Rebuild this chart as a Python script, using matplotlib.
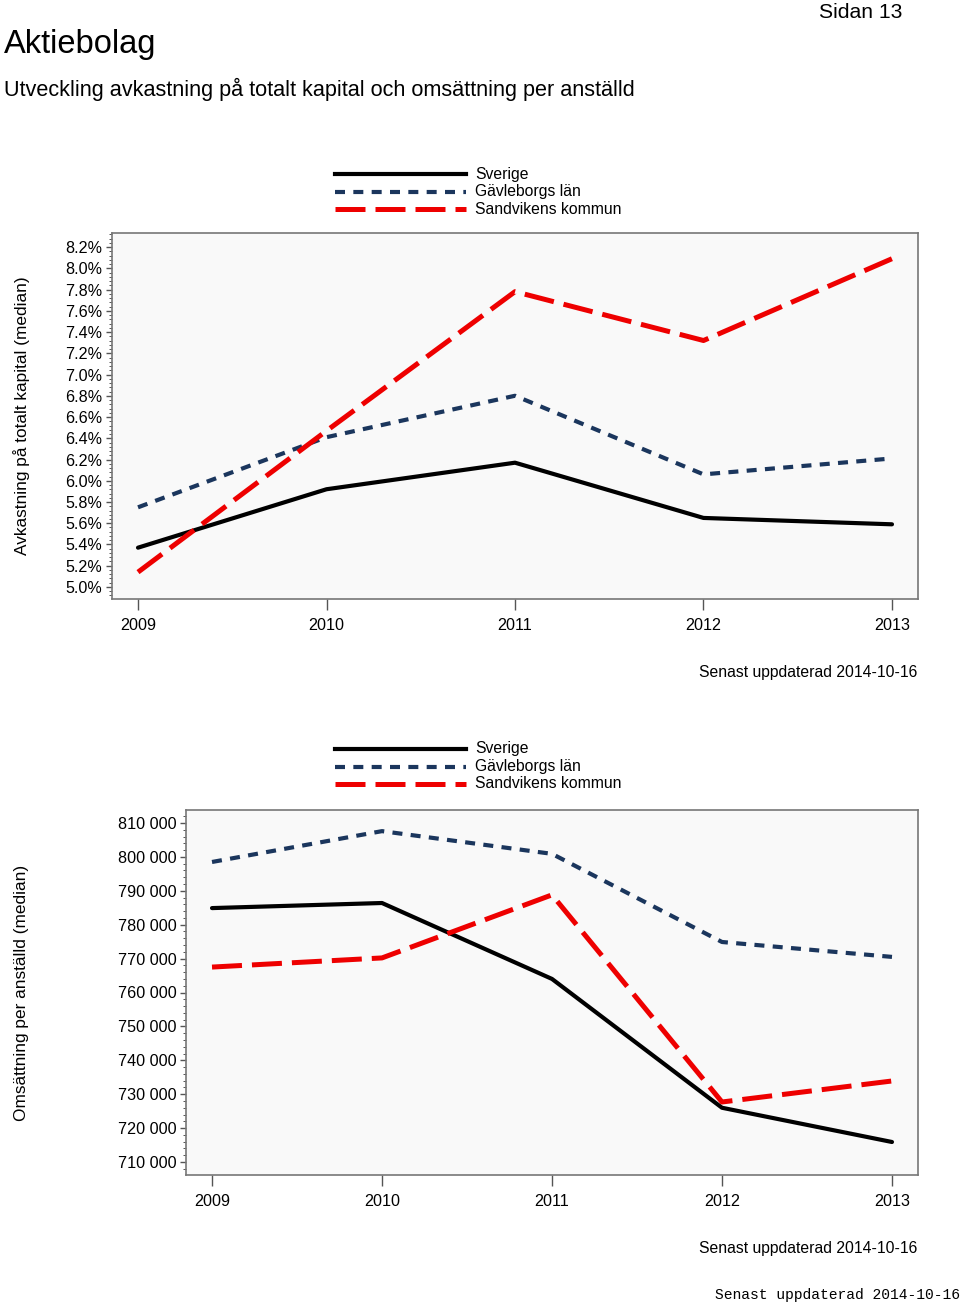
import matplotlib
matplotlib.use("Agg")
import matplotlib.pyplot as plt
from matplotlib.ticker import FixedLocator, AutoMinorLocator, FuncFormatter
from matplotlib.lines import Line2D

plt.rcParams['font.family'] = ['Liberation Sans', 'DejaVu Sans']

years = [2009, 2010, 2011, 2012, 2013]
series_names = ["Sverige", "Gävleborgs län", "Sandvikens kommun"]

# Avkastning på totalt kapital (median), %
avk_sverige = [5.37, 5.92, 6.17, 5.65, 5.59]
avk_gavleborg = [5.75, 6.41, 6.80, 6.06, 6.21]
avk_sandviken = [5.14, 6.47, 7.78, 7.32, 8.09]

# Omsättning per anställd (median), kr
oms_sverige = [784900, 786400, 764000, 726000, 715900]
oms_gavleborg = [798500, 807600, 800900, 774900, 770500]
oms_sandviken = [767500, 770200, 788800, 727700, 733900]

avk_ticks = [5.0, 5.2, 5.4, 5.6, 5.8, 6.0, 6.2, 6.4, 6.6, 6.8, 7.0, 7.2, 7.4, 7.6, 7.8, 8.0, 8.2]
oms_ticks = [710000, 720000, 730000, 740000, 750000, 760000, 770000, 780000, 790000, 800000, 810000]

styles = [
    dict(color="#000000", lw=3.0, linestyle="-", solid_capstyle="round"),
    dict(color="#1b365d", lw=3.0, dashes=(2.4, 2.0), dash_capstyle="butt"),
    dict(color="#ee0000", lw=3.6, dashes=(6.0, 2.0), dash_capstyle="butt"),
]

W, H = 960, 1306
fig = plt.figure(figsize=(W / 100, H / 100), dpi=100)


def fx(px):
    return px / W


def fy(py):
    return 1 - py / H


fig.text(fx(4), fy(44), "Aktiebolag", fontsize=23.5, va="center", ha="left")
fig.text(fx(4), fy(89), "Utveckling avkastning på totalt kapital och omsättning per anställd",
         fontsize=15.6, va="center", ha="left")
fig.text(fx(902), fy(12), "Sidan 13", fontsize=15.2, va="center", ha="right")


def draw_legend(y0):
    for i, (name, st) in enumerate(zip(series_names, styles)):
        y = fy(y0 + i * 17.5)
        kw = dict(st)
        kw.pop("solid_capstyle", None)
        ln = Line2D([fx(335), fx(466)], [y, y], transform=fig.transFigure, **kw)
        fig.add_artist(ln)
        fig.text(fx(475), y, name, fontsize=11.3, va="center", ha="left")


def setup_axes(rect, xlim, ylim, ticks, fmt, ylabel, ylabel_y):
    ax = fig.add_axes(rect)
    ax.set_facecolor("#f9f9f9")
    for s in ax.spines.values():
        s.set_color("#777777")
        s.set_linewidth(1.2)
    ax.set_xlim(*xlim)
    ax.set_ylim(*ylim)
    ax.set_xticks(years)
    ax.set_xticklabels([str(y) for y in years])
    ax.yaxis.set_major_locator(FixedLocator(ticks))
    ax.yaxis.set_major_formatter(FuncFormatter(fmt))
    ax.yaxis.set_minor_locator(AutoMinorLocator(5))
    ax.tick_params(axis="x", direction="out", length=8, width=1, color="#555555",
                   labelsize=11.6, pad=6)
    ax.tick_params(axis="y", which="major", direction="out", length=4, width=1,
                   color="#555555", labelsize=11.6, pad=3)
    ax.tick_params(axis="y", which="minor", direction="out", length=2, width=0.7,
                   color="#555555")
    fig.text(fx(22), fy(ylabel_y), ylabel, rotation=90, fontsize=12.4,
             va="center", ha="center")
    return ax


# Top chart
draw_legend(174)
ax1 = setup_axes([fx(112), fy(599), fx(918) - fx(112), fy(233) - fy(599)],
                 (2008.862, 2013.138), (4.887, 8.332), avk_ticks,
                 lambda v, p: f"{v:.1f}%",
                 "Avkastning på totalt kapital (median)", 416)
for vals, st in zip([avk_sverige, avk_gavleborg, avk_sandviken], styles):
    ax1.plot(years, vals, **st)
fig.text(fx(917), fy(672), "Senast uppdaterad 2014-10-16", fontsize=11.3,
         va="center", ha="right")

# Bottom chart
draw_legend(749)
ax2 = setup_axes([fx(186), fy(1175), fx(918) - fx(186), fy(810) - fy(1175)],
                 (2008.847, 2013.153), (706165, 813835), oms_ticks,
                 lambda v, p: f"{int(v):,}".replace(",", " "),
                 "Omsättning per anställd (median)", 993)
for vals, st in zip([oms_sverige, oms_gavleborg, oms_sandviken], styles):
    ax2.plot(years, vals, **st)
fig.text(fx(917), fy(1248), "Senast uppdaterad 2014-10-16", fontsize=11.3,
         va="center", ha="right")

fig.text(fx(960), fy(1295), "Senast uppdaterad 2014-10-16", fontsize=10.5,
         family=["Liberation Mono", "DejaVu Sans Mono"], va="center", ha="right")

fig.savefig("out.png", dpi=100, facecolor="white")
